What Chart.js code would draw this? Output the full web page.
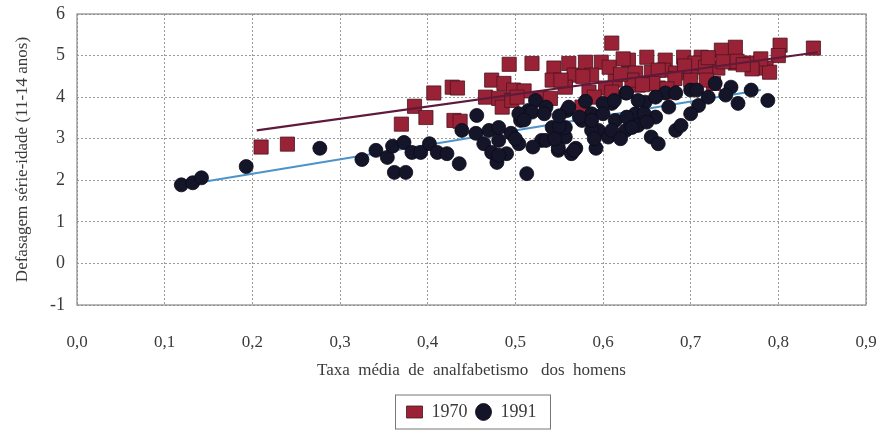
<!DOCTYPE html>
<html>
<head>
<meta charset="utf-8">
<script src="https://cdn.jsdelivr.net/npm/chart.js@4"></script>
<style>
  html, body { margin: 0; padding: 0; background: #fff; }
  #wrap { width: 887px; height: 433px; }
</style>
</head>
<body>
<div id="wrap"><canvas id="chart" width="887" height="433"></canvas></div>
<script>
// 1970 (squares)
const x1970 = [0.21,0.24,0.37,0.385,0.398,0.407,0.428,0.434,0.43,0.437,0.466,0.473,0.481,0.487,0.485,0.493,0.498,0.496,0.519,0.527,0.51,0.502,
  0.544,0.561,0.542,0.557,0.567,0.58,0.598,0.61,0.629,0.65,0.671,0.692,0.712,0.587,0.614,0.637,0.655,0.669,0.683,0.7,0.557,0.584,0.603,0.64,0.663,0.678,0.576,
  0.84,0.802,0.8,0.751,0.735,0.705,0.731,0.751,0.769,0.786,0.79,0.726,0.7,
  0.623,0.663,0.693,0.717,0.737,0.753,0.78,0.77,0.552,0.577,0.607,0.61,0.633,0.657,0.682,0.718,0.54,0.673,0.72,0.76,0.59,0.62,0.645];
const y1970 = [2.8,2.87,3.35,3.78,3.51,4.1,4.24,4.22,3.44,3.42,4.0,4.41,3.97,4.33,3.76,4.79,4.17,3.92,4.81,3.97,4.15,4.0,
  4.7,4.81,4.41,4.33,4.53,4.84,4.84,5.3,4.89,4.96,4.89,4.96,4.96,4.53,4.41,4.58,4.6,4.65,4.58,4.6,4.24,4.12,4.22,4.29,4.22,4.12,3.76,
  5.18,5.25,5.0,5.2,5.13,4.82,4.7,4.82,4.82,4.7,4.6,4.33,4.41,
  4.92,4.65,4.75,4.72,4.85,4.86,4.92,4.68,4.41,4.5,4.72,4.12,4.41,4.33,4.45,4.41,3.97,4.2,4.95,4.78,4.0,4.55,4.3];

// 1991 (circles)
const x1991 = [0.119,0.132,0.142,0.193,0.277,0.325,0.341,0.354,0.36,0.362,0.375,0.373,0.382,0.392,0.402,0.411,0.422,0.436,0.439,0.456,0.455,0.464,0.47,0.473,0.479,0.481,0.49,0.495,0.504,0.513,0.506,0.515,0.53,0.523,
  0.481,0.481,0.504,0.519,0.535,0.542,0.549,0.557,0.564,0.559,0.535,
  0.561,0.557,0.569,0.592,0.587,0.595,0.614,0.61,0.626,0.637,0.626,0.648,0.655,0.663,0.683,0.689,0.66,0.675,0.709,0.7,0.549,0.64,0.606,0.576,
  0.567,0.545,0.754,0.788,0.769,0.746,0.5,0.51,0.533,0.573,0.6,0.613,0.627,0.64,0.671,0.683,0.707,0.728,0.627,0.647,0.587,0.61,0.633,0.55,0.52,0.587,0.59,0.62,0.6,0.65,0.58,0.7,0.72,0.74,0.66,0.55];
const y1991 = [1.89,1.94,2.06,2.33,2.77,2.5,2.72,2.55,2.82,2.19,2.19,2.91,2.67,2.67,2.88,2.67,2.64,2.4,3.2,3.56,3.13,2.88,3.2,2.67,2.43,2.96,2.64,3.13,2.88,2.16,3.44,3.68,2.96,3.92,
  3.27,2.6,3.6,3.64,2.96,3.27,2.72,3.04,2.64,3.68,3.76,
  3.76,3.27,2.77,2.77,3.6,3.2,3.44,3.85,3.2,3.6,4.1,3.88,3.04,2.88,3.2,3.32,3.52,3.76,3.8,4.17,2.79,3.32,3.04,3.44,
  2.72,3.0,3.85,3.92,4.17,4.24,3.0,3.45,3.6,3.52,3.85,3.92,4.1,3.92,4.1,4.1,4.17,4.33,3.52,3.6,3.2,3.2,3.27,3.3,2.8,3.44,3.0,3.0,3.6,3.4,3.9,3.6,4.0,4.05,4.0,3.55];

// trend lines (end points)
const trend1970X = [0.205, 0.845];
const trend1970Y = [3.2, 5.08];
const trend1991X = [0.117, 0.78];
const trend1991Y = [1.87, 4.17];

const yTicks = [-1, 0, 1, 2, 3, 4, 5, 6];
const xTicks = [0, 0.1, 0.2, 0.3, 0.4, 0.5, 0.6, 0.7, 0.8, 0.9];

const pts = (xs, ys) => xs.map((x, i) => ({ x: x, y: ys[i] }));
const serif = "'Liberation Serif', 'DejaVu Serif', serif";
const textColor = '#3a3a3a';
const noTick = 'rgba(0,0,0,0)';

// frame round the plot + box round the legend
const framePlugin = {
    id: 'frame',
    afterDraw(chart) {
        const ctx = chart.ctx;
        const a = chart.chartArea;
        ctx.save();
        ctx.strokeStyle = '#8a8a8a';
        ctx.lineWidth = 1.2;
        ctx.strokeRect(a.left, a.top, a.right - a.left, a.bottom - a.top);
        const hb = chart.legend.legendHitBoxes;
        if (hb && hb.length) {
            let l = Infinity, r = -Infinity, t = Infinity, b = -Infinity;
            hb.forEach(h => {
                l = Math.min(l, h.left); r = Math.max(r, h.left + h.width);
                t = Math.min(t, h.top); b = Math.max(b, h.top + h.height);
            });
            ctx.strokeStyle = '#777';
            ctx.lineWidth = 1;
            ctx.strokeRect(l - 11, t - 8, r - l + 25, b - t + 16);
        }
        ctx.restore();
    }
};

function initChart() {
    const ctx = document.getElementById('chart');
    new Chart(ctx, {
        type: 'scatter',
        data: {
            datasets: [
                {
                    label: '1970', data: pts(x1970, y1970),
                    pointStyle: 'rect', pointRadius: 10, pointHoverRadius: 10,
                    backgroundColor: '#9a2236', borderColor: '#4a1420', borderWidth: 0.8,
                    order: 2
                },
                {
                    label: '1991', data: pts(x1991, y1991),
                    pointStyle: 'circle', pointRadius: 7, pointHoverRadius: 7,
                    backgroundColor: '#15152a', borderColor: '#0a0a18', borderWidth: 0.8,
                    order: 1
                },
                {
                    label: 'trend1970', type: 'line', data: pts(trend1970X, trend1970Y),
                    borderColor: '#5e1a3c', borderWidth: 2.2, pointRadius: 0, fill: false,
                    order: 0
                },
                {
                    label: 'trend1991', type: 'line', data: pts(trend1991X, trend1991Y),
                    borderColor: '#4d93c9', borderWidth: 2, pointRadius: 0, fill: false,
                    order: 3
                }
            ]
        },
        options: {
            responsive: false,
            animation: false,
            layout: { padding: { left: 8, right: 21, top: 14, bottom: 2 } },
            plugins: {
                tooltip: { enabled: false },
                legend: {
                    position: 'bottom',
                    fullSize: false,
                    labels: {
                        filter: item => item.text === '1970' || item.text === '1991',
                        sort: (a, b) => a.datasetIndex - b.datasetIndex,
                        usePointStyle: true,
                        pointStyleWidth: 16,
                        boxHeight: 12,
                        padding: 8,
                        color: textColor,
                        font: { family: serif, size: 18 }
                    }
                }
            },
            scales: {
                x: {
                    type: 'linear', min: 0, max: 0.9,
                    afterBuildTicks: s => { s.ticks = xTicks.map(v => ({ value: v })); },
                    ticks: {
                        padding: 3, color: textColor,
                        font: { family: serif, size: 17 },
                        maxRotation: 0,
                        callback: v => v.toFixed(1).replace('.', ',')
                    },
                    grid: { color: '#9a9a9a', lineWidth: 1, drawTicks: true, tickLength: 24, tickColor: noTick },
                    border: { display: false, dash: [2, 2] },
                    title: {
                        display: true, text: 'Taxa  média  de  analfabetismo   dos  homens',
                        color: textColor, font: { family: serif, size: 17 },
                        padding: { top: 1, bottom: 14 }
                    },
                    afterFit: s => { s.height = 90; }
                },
                y: {
                    type: 'linear', min: -1, max: 6,
                    afterBuildTicks: s => { s.ticks = yTicks.map(v => ({ value: v })); },
                    ticks: {
                        padding: 2, color: textColor,
                        font: { family: serif, size: 18 }
                    },
                    grid: { color: '#9a9a9a', lineWidth: 1, drawTicks: true, tickLength: 10, tickColor: noTick },
                    border: { display: false, dash: [2, 2] },
                    title: {
                        display: true, text: 'Defasagem série-idade (11-14 anos)',
                        color: textColor, font: { family: serif, size: 17 },
                        padding: { top: 4, bottom: 8 }
                    },
                    afterFit: s => { s.width = 69; }
                }
            }
        },
        plugins: [framePlugin]
    });
}

initChart();
</script>
</body>
</html>
